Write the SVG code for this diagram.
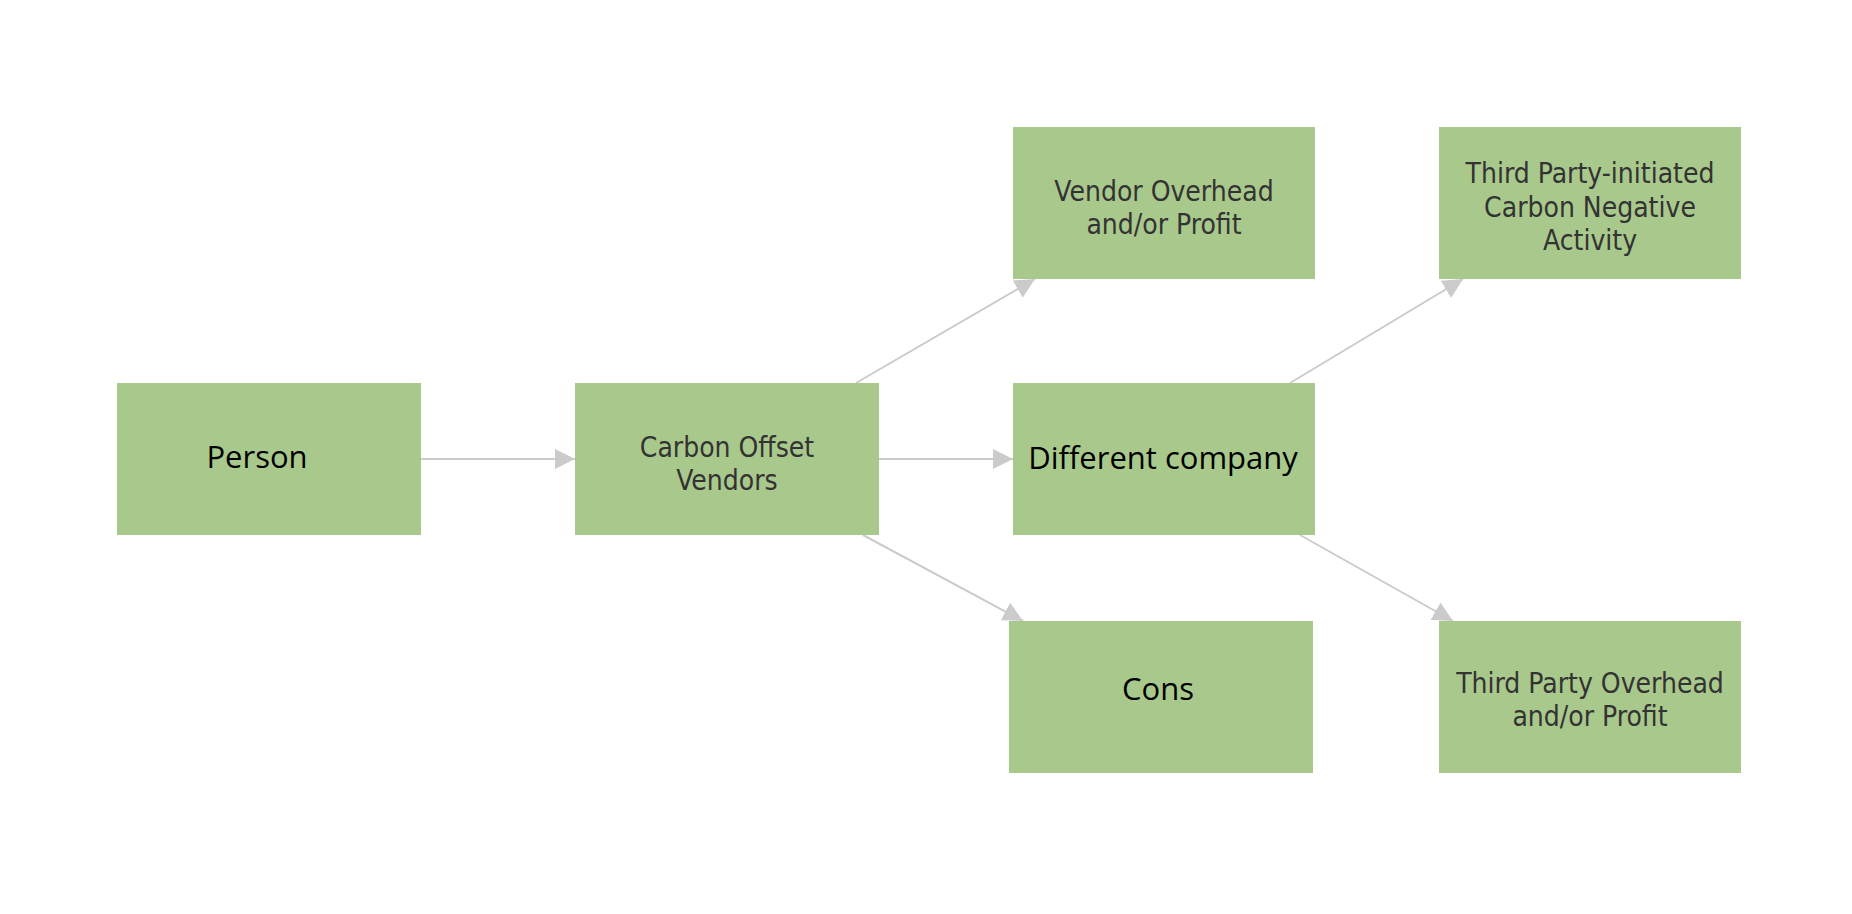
<svg xmlns="http://www.w3.org/2000/svg" width="1852" height="914" viewBox="0 0 1852 914">
<style>
.box{fill:#a9c98c;}
.t1{font-family:"Open Sans","Noto Sans",sans-serif;font-size:31px;fill:#000;text-anchor:middle;}
.t2{font-family:"DejaVu Sans Condensed","DejaVu Sans",sans-serif;font-stretch:condensed;font-size:28px;fill:#333;text-anchor:middle;}
.edge{stroke:#cbcbcb;stroke-width:2;fill:none;marker-end:url(#arr);}
</style>
<defs>
<marker id="arr" markerUnits="userSpaceOnUse" markerWidth="20" markerHeight="20" refX="20" refY="10" orient="auto" viewBox="0 0 20 20">
<path d="M0,0 L20,10 L0,20 z" fill="#cbcbcb"/>
</marker>
</defs>
<rect width="1852" height="914" fill="#fff"/>
<g id="connectors">
<line class="edge" x1="421" y1="459" x2="575" y2="459"/>
<line class="edge" x1="879" y1="459" x2="1013" y2="459"/>
<line class="edge" x1="856" y1="383" x2="1035" y2="279"/>
<line class="edge" x1="863" y1="535" x2="1023" y2="621"/>
<line class="edge" x1="1290" y1="383" x2="1463" y2="279"/>
<line class="edge" x1="1300" y1="535" x2="1453" y2="621"/>
</g>
<g id="person">
<rect class="box" x="117" y="383" width="304" height="152"/>
<text class="t1" x="257" y="468">Person</text>
</g>
<g id="carbon-offset-vendors">
<rect class="box" x="575" y="383" width="304" height="152"/>
<text class="t2" x="727" y="457">Carbon Offset</text>
<text class="t2" x="727" y="490">Vendors</text>
</g>
<g id="vendor-overhead">
<rect class="box" x="1013" y="127" width="302" height="152"/>
<text class="t2" x="1164" y="201">Vendor Overhead</text>
<text class="t2" x="1164" y="234">and/or Profit</text>
</g>
<g id="different-company">
<rect class="box" x="1013" y="383" width="302" height="152"/>
<text class="t1" x="1163" y="469">Different company</text>
</g>
<g id="cons">
<rect class="box" x="1009" y="621" width="304" height="152"/>
<text class="t1" x="1158" y="700">Cons</text>
</g>
<g id="third-party-initiated">
<rect class="box" x="1439" y="127" width="302" height="152"/>
<text class="t2" x="1590" y="183">Third Party-initiated</text>
<text class="t2" x="1590" y="217">Carbon Negative</text>
<text class="t2" x="1590" y="250">Activity</text>
</g>
<g id="third-party-overhead">
<rect class="box" x="1439" y="621" width="302" height="152"/>
<text class="t2" x="1590" y="693">Third Party Overhead</text>
<text class="t2" x="1590" y="726">and/or Profit</text>
</g>
</svg>
